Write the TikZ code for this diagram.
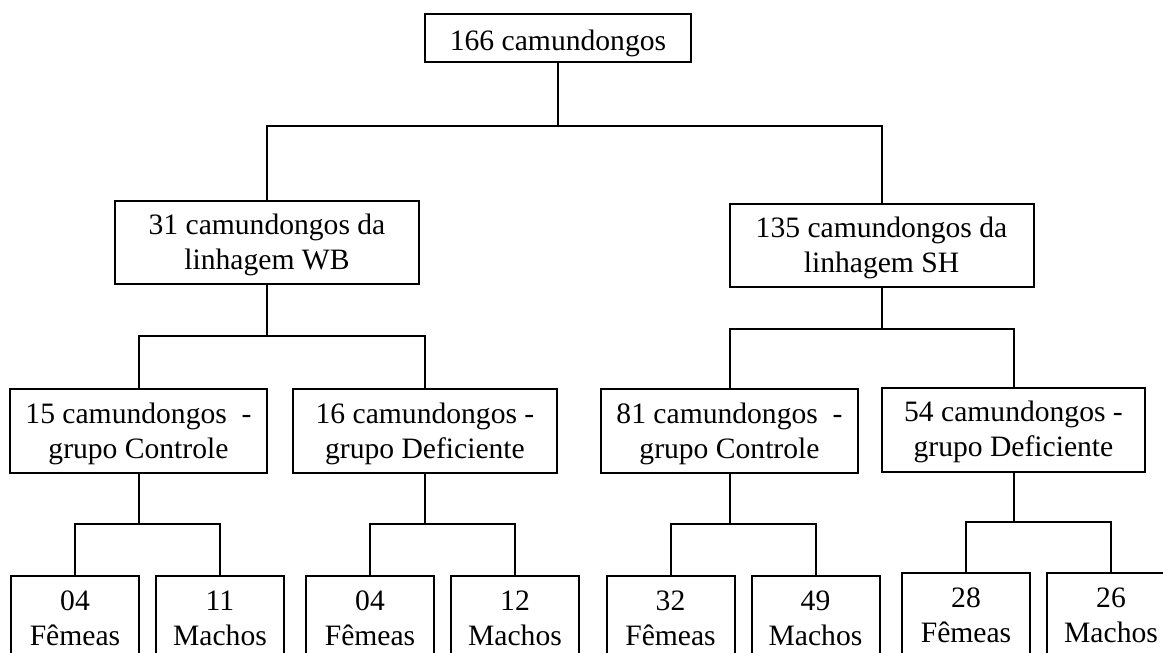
\documentclass[tikz,border=0pt]{standalone}
\usepackage{fontspec}
\setmainfont{Liberation Serif}
\usetikzlibrary{positioning}

\begin{document}
\begin{tikzpicture}[
    x=1pt, y=-1pt,
    line width=2pt,
    font=\fontsize{29.6}{35}\selectfont,
    block/.style={
        draw,
        align=center,
        inner sep=0pt,
        text height=60pt,
        text depth=6pt,
        minimum height=84pt
    },
    rootbox/.style={block, minimum width=266pt, minimum height=48pt,
        text height=30pt, text depth=6pt},
    strain/.style={block, minimum width=304pt, minimum height=83pt},
    grp/.style={block, minimum width=#1},
    sex/.style={block, minimum width=128pt}
]

\path[use as bounding box, clip] (0,0) rectangle (1163,653);

\node[rootbox] (Root) at (558,38) {166 camundongos};
\node[strain] (WB) at (267,242.5) {31 camundongos da\\linhagem WB};
\node[strain] (SH) at (881.5,245) {135 camundongos da\\linhagem SH};

\node[grp=257pt] (CW) at (138.5,431) {15 camundongos~~-\\grupo Controle};
\node[grp=264pt] (DW) at (425,431) {16 camundongos -\\grupo Deficiente};
\node[grp=257pt] (CS) at (729.5,431) {81 camundongos~~-\\grupo Controle};
\node[grp=263pt] (DS) at (1013.5,429.5) {54 camundongos -\\grupo Deficiente};

\node[sex] (F1) at (75,618) {04\\Fêmeas};
\node[sex, right=15pt of F1] (M1) {11\\Machos};
\node[sex] (F2) at (370,618) {04\\Fêmeas};
\node[sex, right=15pt of F2] (M2) {12\\Machos};
\node[sex] (F3) at (670.5,618) {32\\Fêmeas};
\node[sex, right=15pt of F3] (M3) {49\\Machos};
\node[sex] (F4) at (966,615) {28\\Fêmeas};
\node[sex, right=15pt of F4] (M4) {26\\Machos};

% junctions
\coordinate (J0) at (558,126);
\coordinate (JW) at (267,336);
\coordinate (JS) at (881.5,329);
\coordinate (J1) at (138.5,524);
\coordinate (J2) at (425,524);
\coordinate (J3) at (729.5,524);
\coordinate (J4) at (1013.5,522);

\draw (Root) -- (J0);
\draw (J0) -| (WB);
\draw (J0) -| (SH);

\draw (WB) -- (JW);
\draw (JW) -| (CW);
\draw (JW) -| (DW);
\draw (SH) -- (JS);
\draw (JS) -| (CS);
\draw (JS) -| (DS);

\draw (CW) -- (J1);
\draw (J1) -| (F1);
\draw (J1) -| (M1);
\draw (DW) -- (J2);
\draw (J2) -| (F2);
\draw (J2) -| (M2);
\draw (CS) -- (J3);
\draw (J3) -| (F3);
\draw (J3) -| (M3);
\draw (DS) -- (J4);
\draw (J4) -| (F4);
\draw (J4) -| (M4);

\end{tikzpicture}
\end{document}
